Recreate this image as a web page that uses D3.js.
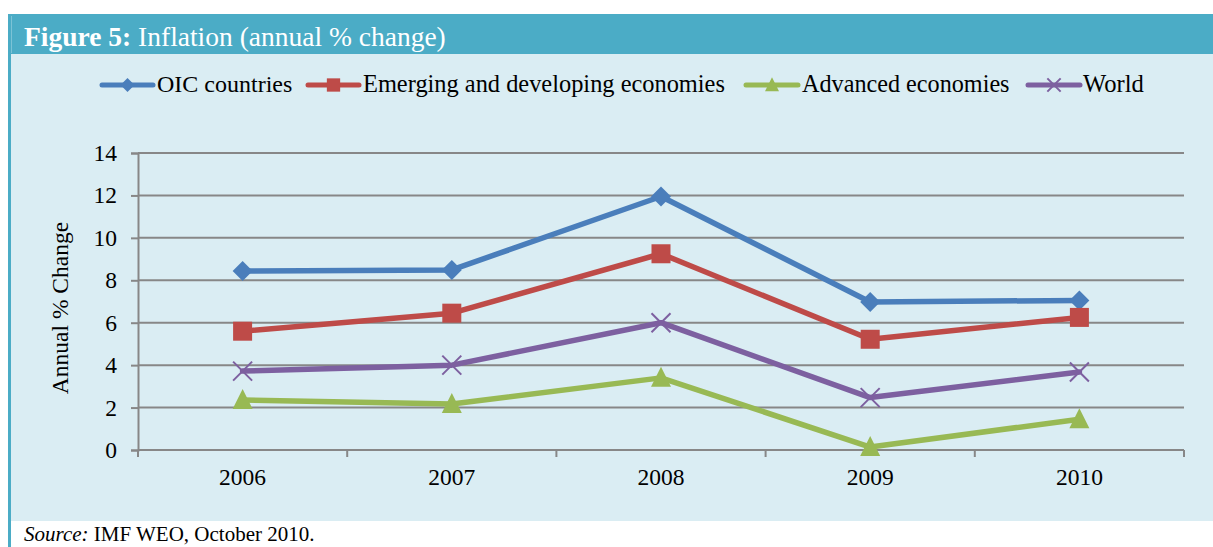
<!DOCTYPE html>
<html><head><meta charset="utf-8">
<script src="https://cdn.jsdelivr.net/npm/d3@7"></script>
<style>
html,body{margin:0;padding:0;background:#fff;}
svg{display:block;}
</style></head>
<body>
<svg id="c" width="1213" height="547"></svg>
<script>
const categories = ["2006", "2007", "2008", "2009", "2010"];
const seriesNames = ["OIC countries", "Emerging and developing economies", "Advanced economies", "World"];
const oic = [8.44, 8.49, 11.95, 6.98, 7.05];
const emerging = [5.6, 6.45, 9.25, 5.22, 6.25];
const advanced = [2.36, 2.17, 3.4, 0.14, 1.45];
const world = [3.72, 4.0, 6.0, 2.47, 3.68];
const yTicks = [0, 2, 4, 6, 8, 10, 12, 14];
const colors = ["#4A7EBB", "#BE4B48", "#98B954", "#7D60A0"];
const markers = ["diamond", "square", "triangle", "x"];
const seriesValues = [oic, emerging, advanced, world];

(function () {
const svg = d3.select("#c");
const serif = "'Liberation Serif', 'DejaVu Serif', serif";

// frame
svg.append("rect").attr("x", 8).attr("y", 14).attr("width", 1205).attr("height", 533).attr("fill", "#4BACC6");
svg.append("rect").attr("x", 11).attr("y", 54).attr("width", 1202).attr("height", 467).attr("fill", "#DAEDF3");
svg.append("rect").attr("x", 11).attr("y", 521).attr("width", 1202).attr("height", 26).attr("fill", "#fff");
svg.append("line").attr("x1", 11.5).attr("x2", 11.5).attr("y1", 16).attr("y2", 53).attr("stroke", "#7cc3d6").attr("stroke-width", 1);

const title = svg.append("text").attr("x", 24).attr("y", 46).attr("fill", "#fff")
  .style("font-family", serif).style("font-size", "27.5px");
title.append("tspan").attr("font-weight", "bold").text("Figure 5:");
title.append("tspan").text(" Inflation (annual % change)");

svg.append("text").attr("x", 24).attr("y", 541).attr("fill", "#000")
  .style("font-family", serif).style("font-size", "21px")
  .call(t => { t.append("tspan").attr("font-style", "italic").text("Source:"); t.append("tspan").text(" IMF WEO, October 2010."); });

const pLeft = 138, pRight = 1184, pTop = 153, pBottom = 450;
const x = d3.scaleBand().domain(categories).range([pLeft, pRight]);
const y = d3.scaleLinear().domain([0, 14]).range([pBottom, pTop]);

const g = svg.append("g");
g.selectAll(".grid").data(yTicks.filter(d => d > 0)).enter().append("line")
  .attr("x1", pLeft).attr("x2", pRight).attr("y1", d => y(d)).attr("y2", d => y(d))
  .attr("stroke", "#878787").attr("stroke-width", 2);

const yAxis = d3.axisLeft(y).tickValues(yTicks).tickSize(7).tickPadding(14).tickFormat(d3.format("d"));
const ya = svg.append("g").attr("transform", `translate(${pLeft},0)`).call(yAxis);
ya.select(".domain").attr("stroke", "#878787").attr("stroke-width", 2);
ya.selectAll(".tick line").attr("stroke", "#878787").attr("stroke-width", 2);
ya.selectAll("text").style("font-family", serif).style("font-size", "23.5px").attr("fill", "#000");

const xa = svg.append("g").attr("transform", `translate(0,${pBottom})`)
  .call(d3.axisBottom(x).tickSize(0).tickPadding(18));
xa.select(".domain").remove();
xa.append("line").attr("x1", pLeft).attr("x2", pRight).attr("stroke", "#878787").attr("stroke-width", 2);
const bounds = categories.map(c => x(c)).concat([pRight]);
xa.selectAll(".sep").data(bounds).enter().append("line")
  .attr("x1", d => d).attr("x2", d => d).attr("y1", 0).attr("y2", 7)
  .attr("stroke", "#878787").attr("stroke-width", 2);
xa.selectAll(".tick text").style("font-family", serif).style("font-size", "23.5px").attr("fill", "#000");

svg.append("text").attr("transform", `translate(68,308) rotate(-90)`)
  .attr("text-anchor", "middle").style("font-family", serif).style("font-size", "23.5px").text("Annual % Change");

function drawMarker(sel, type, color, cx, cy, s) {
  if (type === "diamond") {
    sel.append("path").attr("d", `M${cx},${cy - s}L${cx + s},${cy}L${cx},${cy + s}L${cx - s},${cy}Z`).attr("fill", color);
  } else if (type === "square") {
    sel.append("rect").attr("x", cx - s * 0.95).attr("y", cy - s * 0.95).attr("width", s * 1.9).attr("height", s * 1.9).attr("fill", color);
  } else if (type === "triangle") {
    sel.append("path").attr("d", `M${cx},${cy - s * 1.1}L${cx + s},${cy + s * 0.9}L${cx - s},${cy + s * 0.9}Z`).attr("fill", color);
  } else {
    const k = s * 0.95;
    sel.append("path").attr("d", `M${cx - k},${cy - k}L${cx + k},${cy + k}M${cx - k},${cy + k}L${cx + k},${cy - k}`)
      .attr("stroke", color).attr("stroke-width", 2).attr("fill", "none");
  }
}

const line = d3.line().x((d, i) => x(categories[i]) + x.bandwidth() / 2).y(d => y(d));
seriesValues.forEach((vals, si) => {
  const sg = svg.append("g");
  sg.append("path").datum(vals).attr("d", line).attr("fill", "none")
    .attr("stroke", colors[si]).attr("stroke-width", 5.5).attr("stroke-linejoin", "round").attr("stroke-linecap", "round");
  vals.forEach((v, i) => drawMarker(sg, markers[si], colors[si], x(categories[i]) + x.bandwidth() / 2, y(v), 10));
});

const legendItems = [
  { x1: 102, x2: 153, tx: 157 },
  { x1: 308, x2: 359, tx: 363 },
  { x1: 746, x2: 798, tx: 802 },
  { x1: 1028, x2: 1080, tx: 1083 }
];
const legendSizes = [24, 24.4, 24.2, 24.6];
const lg = svg.append("g");
seriesNames.forEach((name, i) => {
  const it = legendItems[i], ly = 85;
  lg.append("line").attr("x1", it.x1).attr("x2", it.x2).attr("y1", ly).attr("y2", ly)
    .attr("stroke", colors[i]).attr("stroke-width", 5).attr("stroke-linecap", "round");
  drawMarker(lg, markers[i], colors[i], (it.x1 + it.x2) / 2, ly, 7);
  lg.append("text").attr("x", it.tx).attr("y", ly + 7).style("font-family", serif)
    .style("font-size", legendSizes[i] + "px").text(name);
});
})();
</script>
</body></html>
